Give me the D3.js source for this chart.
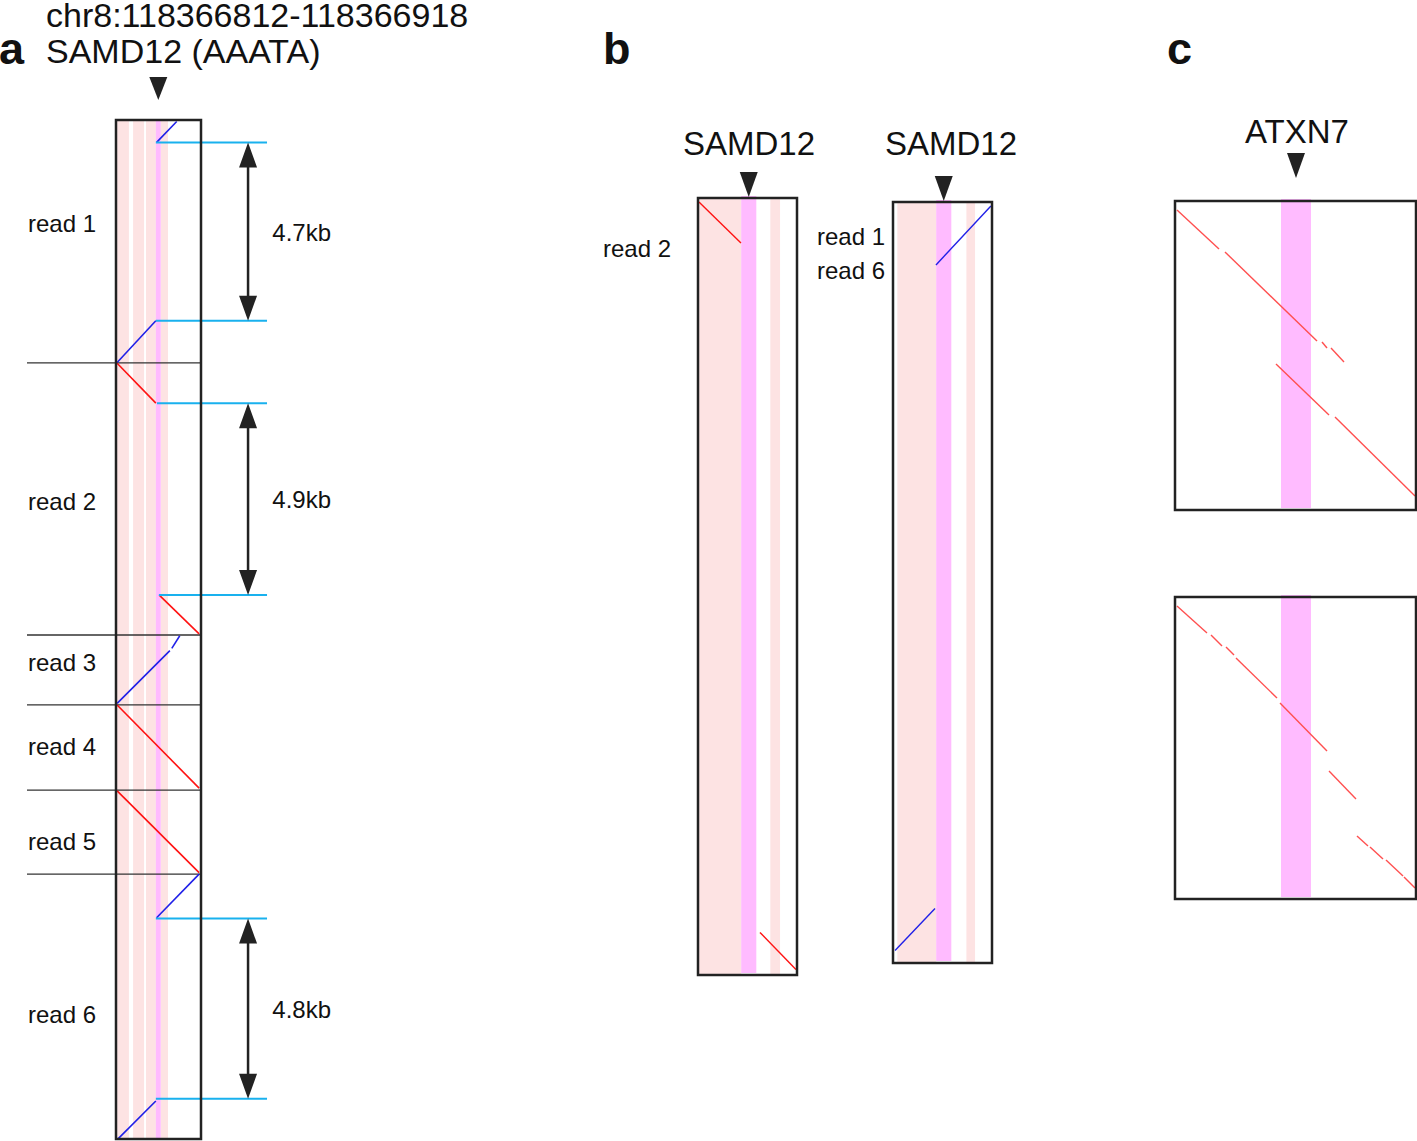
<!DOCTYPE html>
<html>
<head>
<meta charset="utf-8">
<script src="https://cdnjs.cloudflare.com/ajax/libs/d3/7.8.5/d3.min.js"></script>
<style>
body { margin: 0; background: #fff; }
text { font-family: "Liberation Sans", Arial, Helvetica, sans-serif; fill: #111; }
</style>
</head>
<body>
<svg id="fig" width="1417" height="1141"></svg>
<script>
// ---- data (kb) ----
// panel a: SAMD12 reference window vs six concatenated reads
var titleA = ["chr8:118366812-118366918", "SAMD12 (AAATA)"];
var refLenA = 2.24;
var readNamesA = ["read 1", "read 2", "read 3", "read 4", "read 5", "read 6"];
var readLenA = [6.39, 7.16, 1.84, 2.24, 2.21, 6.97];
var readLabelPosA = [2.74, 3.66, 0.74, 1.1, 1.37, 3.71];
var repeatsA = [[0.03, 0.34], [0.45, 0.74], [0.79, 1.05], [1.18, 1.37]];
var strA = [1.05, 1.18];
// [read, strand, ref1, pos1, ref2, pos2]
var segsA = [
    [0, "-", 1.07, 0.59, 1.60, 0.04],
    [0, "-", 0.03, 6.38, 1.05, 5.28],
    [1, "+", 0.03, 0.01, 1.05, 1.06],
    [1, "+", 1.14, 6.11, 2.19, 7.13],
    [2, "-", 0.03, 1.80, 1.42, 0.41],
    [2, "-", 1.47, 0.35, 1.68, 0.02],
    [3, "+", 0.03, 0.00, 2.19, 2.19],
    [4, "+", 0.03, 0.02, 2.19, 2.17],
    [5, "-", 2.19, 0.00, 1.07, 1.15],
    [5, "-", 1.05, 5.97, 0.06, 6.96]
];
// expansions: [read, pos1, ref1, pos2, ref2, label]
var gapsA = [
    [0, 0.59, 1.05, 5.28, 1.05, "4.7kb"],
    [1, 1.06, 1.08, 6.11, 1.13, "4.9kb"],
    [5, 1.17, 1.05, 5.91, 1.05, "4.8kb"]
];

// panel b: zoom on read 2 and on reads 1 / 6
var geneB = "SAMD12";
var refLenB = 0.917;
var readLenB = [7.19, 7.05];
var labelsB = [["read 2"], ["read 1", "read 6"]];
var repeatsB = [[[0.01, 0.40], [0.67, 0.76]], [[0.04, 0.40], [0.68, 0.76]]];
var strB = [[0.40, 0.54], [0.40, 0.54]];
var segsB = [
    [["+", 0.009, 0.037, 0.398, 0.417], ["+", 0.574, 6.796, 0.907, 7.139]],
    [["-", 0.398, 0.583, 0.907, 0.037], ["-", 0.019, 6.935, 0.389, 6.546]]
];

// panel c: ATXN7 control
var geneC = "ATXN7";
var refLenC = 2.41;
var readLenC = [3.09, 3.02];
var strC = [1.06, 1.36];
var segsC = [
    [[0.02, 0.09, 0.44, 0.48], [0.50, 0.51, 1.42, 1.40], [1.47, 1.41, 1.52, 1.47],
     [1.56, 1.47, 1.69, 1.61], [1.01, 1.63, 1.54, 2.14], [1.60, 2.16, 2.40, 2.95]],
    [[0.02, 0.09, 0.32, 0.36], [0.36, 0.38, 0.47, 0.49], [0.51, 0.50, 0.59, 0.58],
     [0.61, 0.61, 1.02, 1.01], [1.05, 1.06, 1.52, 1.54], [1.54, 1.74, 1.81, 2.02],
     [1.82, 2.39, 1.93, 2.49], [1.95, 2.50, 2.08, 2.62], [2.11, 2.63, 2.28, 2.79],
     [2.29, 2.80, 2.40, 2.91]]
];

// ---- drawing ----
var svg = d3.select("#fig");
var ink = "#222", fwd = "#ff1212", rev = "#2020e8", cyan = "#19b1ee",
    pink = "#fde3e3", mag = "#ffbbff", fwdC = "#ff5050";

function marker(x, y, w, h) {
    svg.append("path")
        .attr("d", "M" + (x - w / 2) + "," + y + "L" + (x + w / 2) + "," + y + "L" + x + "," + (y + h) + "Z")
        .attr("fill", ink);
}

function panelLetter(t, x) {
    svg.append("text").attr("x", x).attr("y", 64)
        .style("font-size", "45px").style("font-weight", "bold").text(t);
}

// panel a
var xa = d3.scaleLinear().domain([0, refLenA]).range([116, 201]);
var offA = Array.from(d3.cumsum([0].concat(readLenA)));
var ya = d3.scaleLinear().domain([0, d3.sum(readLenA)]).range([120, 1139]);
var ga = svg.append("g");

panelLetter("a", -1);
titleA.forEach(function (t, i) {
    svg.append("text").attr("x", 46).attr("y", 27 + i * 36)
        .style("font-size", "34px").text(t);
});
marker(xa((strA[0] + strA[1]) / 2), 77, 18, 23);

ga.selectAll(".rep").data(repeatsA).enter().append("rect")
    .attr("x", function (d) { return xa(d[0]); })
    .attr("width", function (d) { return xa(d[1]) - xa(d[0]); })
    .attr("y", ya(0)).attr("height", ya.range()[1] - ya.range()[0])
    .attr("fill", pink);
ga.append("rect")
    .attr("x", xa(strA[0])).attr("width", xa(strA[1]) - xa(strA[0]))
    .attr("y", ya(0)).attr("height", ya.range()[1] - ya.range()[0])
    .attr("fill", mag);

ga.selectAll(".sep").data(offA.slice(1, readLenA.length)).enter().append("line")
    .attr("x1", 27).attr("x2", xa(refLenA))
    .attr("y1", function (d) { return ya(d); })
    .attr("y2", function (d) { return ya(d); })
    .attr("stroke", "#333").attr("stroke-width", 1.3);

ga.selectAll(".seg").data(segsA).enter().append("line")
    .attr("x1", function (d) { return xa(d[2]); })
    .attr("y1", function (d) { return ya(offA[d[0]] + d[3]); })
    .attr("x2", function (d) { return xa(d[4]); })
    .attr("y2", function (d) { return ya(offA[d[0]] + d[5]); })
    .attr("stroke", function (d) { return d[1] === "+" ? fwd : rev; })
    .attr("stroke-width", 1.6);

readNamesA.forEach(function (t, i) {
    ga.append("text").attr("x", 28).attr("y", ya(offA[i] + readLabelPosA[i]) + 8)
        .style("font-size", "24px").text(t);
});

gapsA.forEach(function (d) {
    var y1 = ya(offA[d[0]] + d[1]), y2 = ya(offA[d[0]] + d[3]);
    var ax = xa(3.48);
    ga.append("line").attr("x1", xa(d[2])).attr("x2", xa(3.98))
        .attr("y1", y1).attr("y2", y1).attr("stroke", cyan).attr("stroke-width", 2);
    ga.append("line").attr("x1", xa(d[4])).attr("x2", xa(3.98))
        .attr("y1", y2).attr("y2", y2).attr("stroke", cyan).attr("stroke-width", 2);
    ga.append("line").attr("x1", ax).attr("x2", ax)
        .attr("y1", y1 + 10).attr("y2", y2 - 10).attr("stroke", ink).attr("stroke-width", 2.5);
    ga.append("path")
        .attr("d", "M" + ax + "," + y1 + "L" + (ax + 9) + "," + (y1 + 25) + "L" + (ax - 9) + "," + (y1 + 25) + "Z" +
                   "M" + ax + "," + y2 + "L" + (ax + 9) + "," + (y2 - 25) + "L" + (ax - 9) + "," + (y2 - 25) + "Z")
        .attr("fill", ink);
    ga.append("text").attr("x", xa(4.12)).attr("y", (y1 + y2) / 2 + 9)
        .style("font-size", "24px").text(d[5]);
});

ga.append("rect").attr("x", xa(0)).attr("y", ya(0))
    .attr("width", xa(refLenA) - xa(0)).attr("height", ya.range()[1] - ya.range()[0])
    .attr("fill", "none").attr("stroke", ink).attr("stroke-width", 2.5);

// generic dot-plot box for panels b and c
function dotBox(box, refLen, readLen, reps, str, segs, color) {
    var x = d3.scaleLinear().domain([0, refLen]).range([box[0], box[1]]);
    var y = d3.scaleLinear().domain([0, readLen]).range([box[2], box[3]]);
    var g = svg.append("g");
    g.selectAll(".rep").data(reps).enter().append("rect")
        .attr("x", function (d) { return x(d[0]); })
        .attr("width", function (d) { return x(d[1]) - x(d[0]); })
        .attr("y", y(0)).attr("height", y(readLen) - y(0))
        .attr("fill", pink);
    g.append("rect")
        .attr("x", x(str[0])).attr("width", x(str[1]) - x(str[0]))
        .attr("y", y(0) - 2).attr("height", y(readLen) - y(0))
        .attr("fill", mag);
    g.selectAll(".seg").data(segs).enter().append("line")
        .attr("x1", function (d) { return x(d[d.length - 4]); })
        .attr("y1", function (d) { return y(d[d.length - 3]); })
        .attr("x2", function (d) { return x(d[d.length - 2]); })
        .attr("y2", function (d) { return y(d[d.length - 1]); })
        .attr("stroke", function (d) { return color || (d[0] === "+" ? fwd : rev); })
        .attr("stroke-width", 1.4);
    g.append("rect").attr("x", box[0]).attr("y", box[2])
        .attr("width", box[1] - box[0]).attr("height", box[3] - box[2])
        .attr("fill", "none").attr("stroke", ink).attr("stroke-width", 2.5);
    return x;
}

// panel b
panelLetter("b", 603);
var boxesB = [[698, 797, 198, 975], [893, 992, 202, 963]];
var textXB = [749, 951];
boxesB.forEach(function (b, i) {
    var x = dotBox(b, refLenB, readLenB[i], repeatsB[i], strB[i], segsB[i], null);
    svg.append("text").attr("x", textXB[i]).attr("y", 155).attr("text-anchor", "middle")
        .style("font-size", "33px").text(geneB);
    marker(x((strB[i][0] + strB[i][1]) / 2), b[2] - 26, 18, 25);
});
svg.append("text").attr("x", 603).attr("y", 257).style("font-size", "24px").text(labelsB[0][0]);
labelsB[1].forEach(function (t, i) {
    svg.append("text").attr("x", 817).attr("y", 245 + i * 34).style("font-size", "24px").text(t);
});

// panel c
panelLetter("c", 1167);
var boxesC = [[1175, 1416, 201, 510], [1175, 1416, 597, 899]];
var xc;
boxesC.forEach(function (b, i) {
    xc = dotBox(b, refLenC, readLenC[i], [], strC, segsC[i], fwdC);
});
svg.append("text").attr("x", 1297).attr("y", 143).attr("text-anchor", "middle")
    .style("font-size", "33px").text(geneC);
marker(xc((strC[0] + strC[1]) / 2), 153, 18, 25);
</script>
</body>
</html>
